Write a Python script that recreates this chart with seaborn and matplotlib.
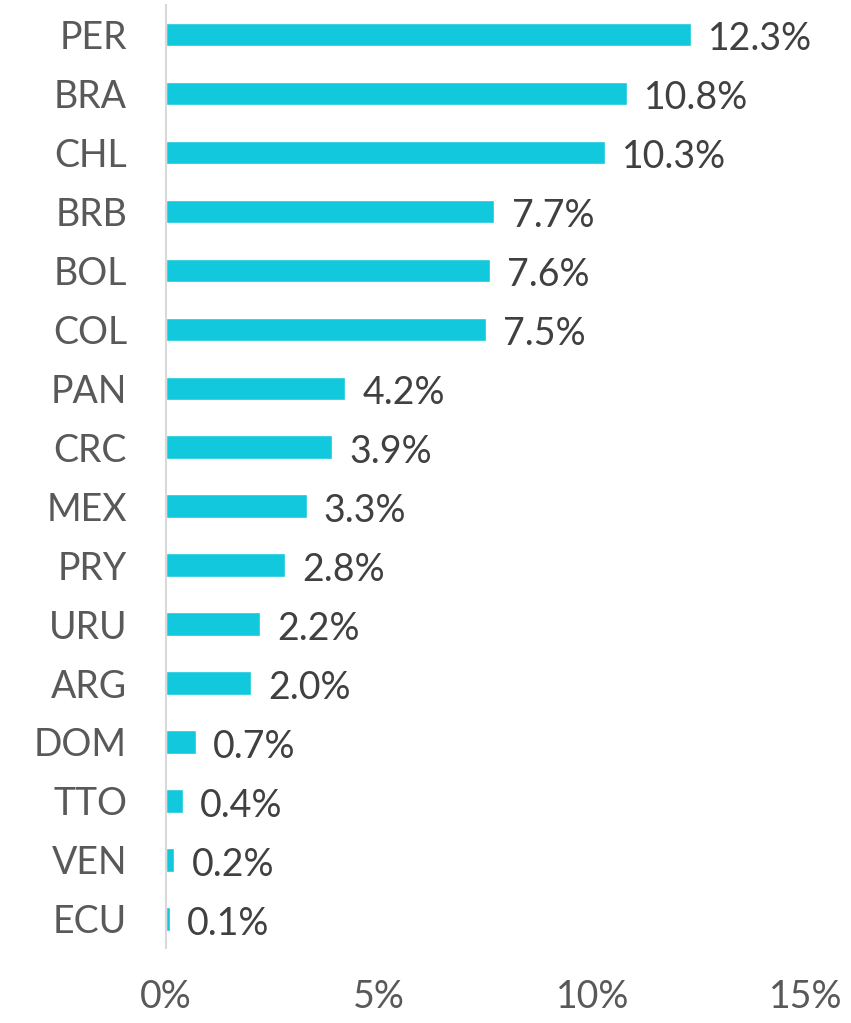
import seaborn as sns
import pandas as pd
import matplotlib.pyplot as plt

# Values (share, in %)
countries = ['PER', 'BRA', 'CHL', 'BRB', 'BOL', 'COL', 'PAN', 'CRC',
             'MEX', 'PRY', 'URU', 'ARG', 'DOM', 'TTO', 'VEN', 'ECU']
shares = [12.3, 10.8, 10.3, 7.7, 7.6, 7.5, 4.2, 3.9,
          3.3, 2.8, 2.2, 2.0, 0.7, 0.4, 0.2, 0.1]
x_ticks = [0, 5, 10, 15]

df = pd.DataFrame({'country': countries, 'share': shares})

sns.set_style('white')
plt.rcParams['font.family'] = ['Lato', 'DejaVu Sans']

fig = plt.figure(figsize=(8.51, 10.23), dpi=100)
ax = fig.add_axes([0.195, 0.073, 0.752, 0.922])

sns.barplot(data=df, x='share', y='country', orient='h', color='#12C8DC',
            saturation=1, width=0.4, ax=ax)

for i, v in enumerate(shares):
    ax.text(v + 0.4, i + 0.08, f'{v:.1f}%', va='center', ha='left',
            fontsize=27, color='#404040')

ax.set_xlim(0, 15)
ax.set_ylim(15.5, -0.5)
ax.set_xticks(x_ticks)
ax.set_xticklabels([f'{t}%' for t in x_ticks])
ax.set_xlabel('')
ax.set_ylabel('')
ax.tick_params(axis='x', length=0, pad=22, labelsize=27, labelcolor='#595959')
ax.tick_params(axis='y', length=0, pad=28, labelsize=27, labelcolor='#595959')

for s in ['top', 'right', 'bottom']:
    ax.spines[s].set_visible(False)
ax.spines['left'].set_color('#D9D9D9')
ax.spines['left'].set_linewidth(1.5)

fig.savefig('out.png', dpi=100)
